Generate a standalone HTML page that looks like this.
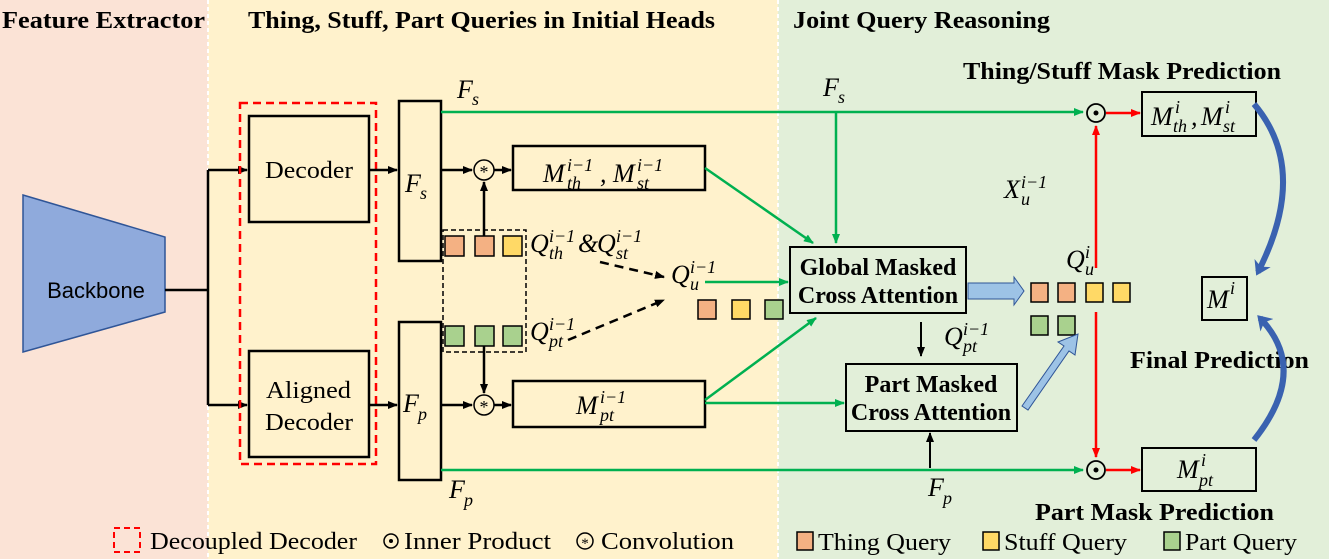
<!DOCTYPE html>
<html><head><meta charset="utf-8"><style>
html,body{margin:0;padding:0;background:#fff}
svg{display:block;font-family:"Liberation Serif",serif}
.t{font-weight:bold;font-size:24px}
.m{font-style:italic;font-size:26px}
.sc{font-style:italic;font-size:18px}
.l{font-size:24px}
</style></head><body>
<svg width="1329" height="559" viewBox="0 0 1329 559" xmlns="http://www.w3.org/2000/svg">
<defs>
<marker id="ab" markerWidth="10" markerHeight="8" refX="9" refY="4" orient="auto" markerUnits="userSpaceOnUse"><path d="M0,0L10,4L0,8z" fill="#000"/></marker>
<marker id="ag" markerWidth="10" markerHeight="8" refX="9" refY="4" orient="auto" markerUnits="userSpaceOnUse"><path d="M0,0L10,4L0,8z" fill="#00b050"/></marker>
<marker id="ar" markerWidth="10" markerHeight="8" refX="9" refY="4" orient="auto" markerUnits="userSpaceOnUse"><path d="M0,0L10,4L0,8z" fill="#ff0000"/></marker>
<marker id="au" markerWidth="14" markerHeight="18" refX="10" refY="9" orient="auto" markerUnits="userSpaceOnUse"><path d="M0,0L14,9L0,18L4,9z" fill="#3a62b0"/></marker>
</defs>
<rect x="0" y="0" width="208" height="559" fill="#fbe3d6"/>
<rect x="208" y="0" width="570" height="559" fill="#fff2cc"/>
<rect x="778" y="0" width="551" height="559" fill="#e2efd9"/>
<line x1="208" y1="0" x2="208" y2="559" stroke="#fff" stroke-width="2" stroke-dasharray="4,3"/>
<line x1="778" y1="0" x2="778" y2="559" stroke="#fff" stroke-width="2" stroke-dasharray="4,3"/>
<text class="t" x="2" y="28" textLength="203" lengthAdjust="spacingAndGlyphs">Feature Extractor</text>
<text class="t" x="248" y="28" textLength="467" lengthAdjust="spacingAndGlyphs">Thing, Stuff, Part Queries in Initial Heads</text>
<text class="t" x="793" y="28" textLength="257" lengthAdjust="spacingAndGlyphs">Joint Query Reasoning</text>
<text class="t" x="963" y="79" textLength="318" lengthAdjust="spacingAndGlyphs">Thing/Stuff Mask Prediction</text>
<text class="t" x="1130" y="368" textLength="179" lengthAdjust="spacingAndGlyphs">Final Prediction</text>
<text class="t" x="1035" y="520" textLength="239" lengthAdjust="spacingAndGlyphs">Part Mask Prediction</text>

<polygon points="23,195 165,237 165,312 23,352" fill="#8faadc" stroke="#2f5597" stroke-width="1.5"/>
<text x="96" y="298" text-anchor="middle" font-size="22" font-family="Liberation Sans,sans-serif">Backbone</text>
<g stroke="#000" stroke-width="2.5" fill="none">
<line x1="165" y1="290" x2="208" y2="290"/>
<line x1="208" y1="170" x2="208" y2="405"/>
<line x1="208" y1="170" x2="247" y2="170" marker-end="url(#ab)"/>
<line x1="208" y1="405" x2="247" y2="405" marker-end="url(#ab)"/>
</g>
<rect x="240" y="103" width="136" height="361" fill="none" stroke="#ff0000" stroke-width="2.5" stroke-dasharray="8,5"/>
<g stroke="#000" stroke-width="2.5" fill="none">
<rect x="249" y="116" width="120" height="106"/>
<rect x="249" y="351" width="120" height="106"/>
<rect x="399" y="101" width="42" height="160"/>
<rect x="399" y="322" width="42" height="158"/>
<line x1="369" y1="170" x2="397" y2="170" marker-end="url(#ab)"/>
<line x1="369" y1="405" x2="397" y2="405" marker-end="url(#ab)"/>
<line x1="441" y1="170" x2="472" y2="170" marker-end="url(#ab)"/>
<line x1="441" y1="405" x2="472" y2="405" marker-end="url(#ab)"/>
<line x1="494" y1="170" x2="511" y2="170" marker-end="url(#ab)"/>
<line x1="494" y1="405" x2="511" y2="405" marker-end="url(#ab)"/>
<rect x="513" y="146" width="192" height="44"/>
<rect x="513" y="381" width="192" height="46"/>
<line x1="484" y1="236" x2="484" y2="182" marker-end="url(#ab)"/>
<line x1="484" y1="346" x2="484" y2="393" marker-end="url(#ab)"/>
</g>
<circle cx="484" cy="170" r="10" fill="#fff2cc" stroke="#000" stroke-width="1.5"/>
<text x="484" y="178" text-anchor="middle" font-size="18">*</text>
<circle cx="484" cy="405" r="10" fill="#fff2cc" stroke="#000" stroke-width="1.5"/>
<text x="484" y="413" text-anchor="middle" font-size="18">*</text>
<text class="l" x="265" y="178" textLength="88" lengthAdjust="spacingAndGlyphs">Decoder</text>
<text class="l" x="266" y="398" textLength="85" lengthAdjust="spacingAndGlyphs">Aligned</text>
<text class="l" x="265" y="430" textLength="88" lengthAdjust="spacingAndGlyphs">Decoder</text>
<text class="m" x="405" y="192">F</text><text class="sc" x="420" y="199">s</text>
<text class="m" x="403" y="412">F</text><text class="sc" x="418" y="420">p</text>
<rect x="443" y="230" width="83" height="122" fill="none" stroke="#000" stroke-width="1.5" stroke-dasharray="5,3"/>
<g stroke="#000" stroke-width="1.5">
<rect x="445" y="236" width="19" height="20" fill="#f4b183"/>
<rect x="475" y="236" width="19" height="20" fill="#f4b183"/>
<rect x="503" y="236" width="19" height="20" fill="#ffd966"/>
<rect x="445" y="326" width="19" height="20" fill="#a9d18e"/>
<rect x="475" y="326" width="19" height="20" fill="#a9d18e"/>
<rect x="503" y="326" width="19" height="20" fill="#a9d18e"/>
<rect x="698" y="300" width="18" height="19" fill="#f4b183"/>
<rect x="732" y="300" width="18" height="19" fill="#ffd966"/>
<rect x="765" y="300" width="18" height="19" fill="#a9d18e"/>
<rect x="1031" y="283" width="17" height="19" fill="#f4b183"/>
<rect x="1058" y="283" width="17" height="19" fill="#f4b183"/>
<rect x="1086" y="283" width="17" height="19" fill="#ffd966"/>
<rect x="1113" y="283" width="17" height="19" fill="#ffd966"/>
<rect x="1031" y="316" width="17" height="19" fill="#a9d18e"/>
<rect x="1058" y="316" width="17" height="19" fill="#a9d18e"/>
</g>
<!-- Qth & Qst -->
<text class="m" x="530" y="252">Q</text><text class="sc" x="549" y="259">th</text><text class="sc" x="549" y="242">i−1</text>
<text class="m" x="578" y="252" font-style="normal">&amp;</text>
<text class="m" x="597" y="252">Q</text><text class="sc" x="616" y="259">st</text><text class="sc" x="616" y="242">i−1</text>
<!-- Qpt -->
<text class="m" x="530" y="340">Q</text><text class="sc" x="549" y="347">pt</text><text class="sc" x="549" y="330">i−1</text>
<!-- Qu -->
<text class="m" x="671" y="283">Q</text><text class="sc" x="690" y="290">u</text><text class="sc" x="690" y="273">i−1</text>
<!-- Mth Mst -->
<text class="m" x="543" y="182">M</text><text class="sc" x="567" y="189">th</text><text class="sc" x="567" y="171">i−1</text>
<text class="m" x="600" y="182">,</text>
<text class="m" x="613" y="182">M</text><text class="sc" x="637" y="189">st</text><text class="sc" x="637" y="171">i−1</text>
<!-- Mpt -->
<text class="m" x="576" y="414">M</text><text class="sc" x="600" y="421">pt</text><text class="sc" x="600" y="403">i−1</text>
<g stroke="#000" stroke-width="2.5" stroke-dasharray="9,6" fill="none">
<line x1="600" y1="262" x2="664" y2="277" marker-end="url(#ab)"/>
<line x1="568" y1="340" x2="664" y2="300" marker-end="url(#ab)"/>
</g>
<g stroke="#00b050" stroke-width="2.5" fill="none">
<line x1="441" y1="112" x2="1083" y2="112" marker-end="url(#ag)"/>
<line x1="836" y1="112" x2="836" y2="243" marker-end="url(#ag)"/>
<line x1="705" y1="168" x2="813" y2="243" marker-end="url(#ag)"/>
<line x1="705" y1="282" x2="788" y2="282" marker-end="url(#ag)"/>
<line x1="705" y1="400" x2="816" y2="318" marker-end="url(#ag)"/>
<line x1="705" y1="403" x2="844" y2="403" marker-end="url(#ag)"/>
<line x1="441" y1="470" x2="1083" y2="470" marker-end="url(#ag)"/>
</g>
<text class="m" x="457" y="98">F</text><text class="sc" x="472" y="105">s</text>
<text class="m" x="823" y="96">F</text><text class="sc" x="838" y="103">s</text>
<text class="m" x="449" y="498">F</text><text class="sc" x="464" y="506">p</text>
<text class="m" x="928" y="496">F</text><text class="sc" x="943" y="504">p</text>
<g stroke="#000" stroke-width="2" fill="none">
<rect x="790" y="247" width="176" height="66"/>
<rect x="846" y="364" width="171" height="67"/>
<line x1="921" y1="322" x2="921" y2="356" marker-end="url(#ab)"/>
<line x1="930" y1="468" x2="930" y2="433" marker-end="url(#ab)"/>
</g>
<text class="t" x="878" y="275" text-anchor="middle" font-size="21">Global Masked</text>
<text class="t" x="878" y="303" text-anchor="middle" font-size="21">Cross Attention</text>
<text class="t" x="931" y="392" text-anchor="middle" font-size="21">Part Masked</text>
<text class="t" x="931" y="420" text-anchor="middle" font-size="21">Cross Attention</text>
<text class="m" x="944" y="345">Q</text><text class="sc" x="963" y="352">pt</text><text class="sc" x="963" y="335">i−1</text>
<path d="M968,283 L1014,283 L1014,277 L1024,291 L1014,305 L1014,299 L968,299z" fill="#9dc3e6" stroke="#2f5597" stroke-width="1"/>
<path d="M1022,406 L1064,346 L1058,342 L1078,334 L1075,355 L1069,351 L1028,410z" fill="#9dc3e6" stroke="#2f5597" stroke-width="1"/>
<text class="m" x="1066" y="268">Q</text><text class="sc" x="1085" y="275">u</text><text class="sc" x="1085" y="258">i</text>
<text class="m" x="1004" y="198">X</text><text class="sc" x="1021" y="205">u</text><text class="sc" x="1021" y="188">i−1</text>
<g stroke="#ff0000" stroke-width="2.5" fill="none">
<line x1="1096" y1="268" x2="1096" y2="126" marker-end="url(#ar)"/>
<line x1="1096" y1="312" x2="1096" y2="457" marker-end="url(#ar)"/>
<line x1="1106" y1="113" x2="1140" y2="113" marker-end="url(#ar)"/>
<line x1="1106" y1="470" x2="1140" y2="470" marker-end="url(#ar)"/>
</g>
<circle cx="1096" cy="113" r="9" fill="#e2efd9" stroke="#000" stroke-width="1.8"/><circle cx="1096" cy="113" r="2.5"/>
<circle cx="1096" cy="470" r="9" fill="#e2efd9" stroke="#000" stroke-width="1.8"/><circle cx="1096" cy="470" r="2.5"/>
<g stroke="#000" stroke-width="2" fill="none">
<rect x="1142" y="92" width="114" height="44"/>
<rect x="1142" y="448" width="114" height="43"/>
<rect x="1202" y="277" width="45" height="43"/>
</g>
<text class="m" x="1151" y="125">M</text><text class="sc" x="1173" y="132">th</text><text class="sc" x="1175" y="113">i</text>
<text class="m" x="1191" y="125">,</text>
<text class="m" x="1201" y="125">M</text><text class="sc" x="1223" y="132">st</text><text class="sc" x="1225" y="113">i</text>
<text class="m" x="1177" y="478">M</text><text class="sc" x="1199" y="486">pt</text><text class="sc" x="1201" y="466">i</text>
<text class="m" x="1207" y="308">M</text><text class="sc" x="1230" y="294">i</text>
<path d="M1254,104 Q1310,170 1258,272" stroke="#3a62b0" stroke-width="6" fill="none" marker-end="url(#au)"/>
<path d="M1254,440 Q1310,370 1260,318" stroke="#3a62b0" stroke-width="6" fill="none" marker-end="url(#au)"/>
<rect x="114" y="528" width="26" height="24" fill="none" stroke="#ff0000" stroke-width="2" stroke-dasharray="6,4"/>
<text class="l" x="150" y="549" textLength="207" lengthAdjust="spacingAndGlyphs">Decoupled Decoder</text>
<circle cx="391" cy="541" r="7" fill="none" stroke="#000" stroke-width="1.5"/><circle cx="391" cy="541" r="2"/>
<text class="l" x="404" y="549" textLength="147" lengthAdjust="spacingAndGlyphs">Inner Product</text>
<circle cx="585" cy="541" r="8" fill="none" stroke="#000" stroke-width="1.5"/><text x="585" y="548" text-anchor="middle" font-size="15">*</text>
<text class="l" x="601" y="549" textLength="133" lengthAdjust="spacingAndGlyphs">Convolution</text>
<rect x="797" y="532" width="16" height="18" fill="#f4b183" stroke="#000" stroke-width="1.5"/>
<text class="l" x="818" y="550" textLength="133" lengthAdjust="spacingAndGlyphs">Thing Query</text>
<rect x="983" y="532" width="16" height="18" fill="#ffd966" stroke="#000" stroke-width="1.5"/>
<text class="l" x="1004" y="550" textLength="123" lengthAdjust="spacingAndGlyphs">Stuff Query</text>
<rect x="1164" y="532" width="16" height="18" fill="#a9d18e" stroke="#000" stroke-width="1.5"/>
<text class="l" x="1185" y="550" textLength="112" lengthAdjust="spacingAndGlyphs">Part Query</text>
</svg>
</body></html>
